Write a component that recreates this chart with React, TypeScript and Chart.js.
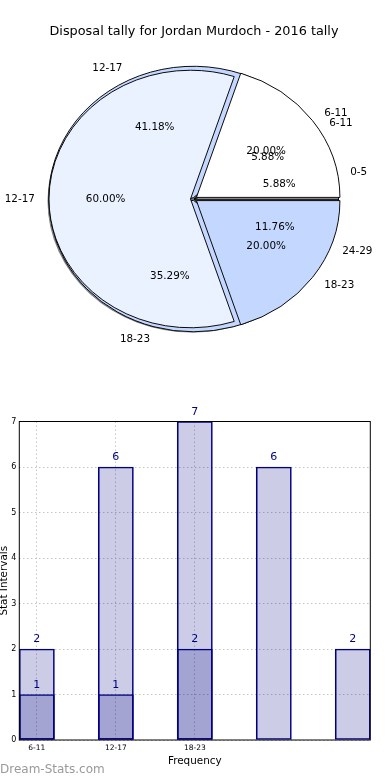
import React, { useEffect, useRef } from "react";
import { Chart, registerables } from "chart.js";

Chart.register(...registerables);

const FONT = "'DejaVu Sans', Verdana, sans-serif";

// ---------- data ----------
const chartTitle = "Disposal tally for Jordan Murdoch - 2016 tally";
const outerLabels = ["0-5", "6-11", "12-17", "18-23", "24-29"];
const outerValues = [1, 1, 7, 6, 2];
const innerLabels = ["6-11", "12-17", "18-23"];
const innerValues = [1, 3, 1];

const barPositions = [0, 1, 2, 3, 4];
const lightBarValues = [2, 6, 7, 6, 2];
const darkBarValues = [1, 1, 2];
const xTickPositions = [0, 1, 2];
const xTickLabels = ["6-11", "12-17", "18-23"];
const yAxisMax = 7;
const xAxisTitle = "Frequency";
const yAxisTitle = "Stat Intervals";
const watermark = "Dream-Stats.com";

// ---------- styles ----------
const outerColors = ["#ffffff", "#ebf2ff", "#c4d8ff", "#c4d8ff", "#8c8c8c"];
const innerColors = ["#ffffff", "#ebf2ff", "#c4d8ff"];
const outerExplode = [0, 0, 1.5, 1.5, 0];
const innerExplode = [3, 3.5, 3];
const outerShrink = [0, 0, 0, 0, 0];
const innerShrink = [1, 3, 1];
const Y_SCALE = 0.91;

const rev = <T,>(a: T[]): T[] => a.slice().reverse();

// dataset 0 = inner pie (drawn on top), dataset 1 = outer pie
const pieGeo = [
  { labels: rev(innerLabels), explode: rev(innerExplode), shrink: rev(innerShrink) },
  { labels: rev(outerLabels), explode: rev(outerExplode), shrink: rev(outerShrink) },
];

function centerOf(chart: any) {
  const { left, right, top, bottom } = chart.chartArea;
  return {
    cx: (left + right) / 2,
    cy: (top + bottom) / 2,
    R: Math.min(right - left, bottom - top) / 2,
  };
}

const pieGeometryPlugin = {
  id: "pieGeometry",
  afterDatasetsUpdate(chart: any) {
    const { cx, cy, R } = centerOf(chart);
    chart.data.datasets.forEach((_ds: any, di: number) => {
      const meta = chart.getDatasetMeta(di);
      const g = pieGeo[di];
      meta.data.forEach((arc: any, i: number) => {
        const mid = (arc.startAngle + arc.endAngle) / 2;
        arc.x = cx + Math.cos(mid) * g.explode[i];
        arc.y = cy + Math.sin(mid) * g.explode[i];
        arc.innerRadius = 0;
        arc.outerRadius = R - g.shrink[i];
      });
    });
  },
  beforeDatasetsDraw(chart: any) {
    const { ctx } = chart;
    const { cx, cy, R } = centerOf(chart);
    ctx.save();
    ctx.translate(0, cy);
    ctx.scale(1, Y_SCALE);
    ctx.translate(0, -cy);
    // shadow of the outer pie
    ctx.beginPath();
    ctx.arc(cx - 2, cy + 2 / Y_SCALE, R, 0, Math.PI * 2);
    ctx.fillStyle = "rgba(0,0,0,0.5)";
    ctx.fill();
  },
  afterDatasetsDraw(chart: any) {
    chart.ctx.restore();
  },
  afterDraw(chart: any) {
    const { ctx } = chart;
    const { cy } = centerOf(chart);
    ctx.save();
    ctx.font = `10.4px ${FONT}`;
    ctx.fillStyle = "#000";
    ctx.textBaseline = "middle";
    [1, 0].forEach((di) => {
      const meta = chart.getDatasetMeta(di);
      const values: number[] = chart.data.datasets[di].data;
      const total = values.reduce((a, b) => a + b, 0);
      meta.data.forEach((arc: any, i: number) => {
        const mid = (arc.startAngle + arc.endAngle) / 2;
        const c = Math.cos(mid);
        const s = Math.sin(mid);
        const r = arc.outerRadius;
        const px = (k: number) => arc.x + c * r * k;
        const py = (k: number) => cy + (arc.y + s * r * k - cy) * Y_SCALE;
        ctx.textAlign = c > 0 ? "left" : "right";
        ctx.fillText(pieGeo[di].labels[i], px(1.1), py(1.1));
        ctx.textAlign = "center";
        ctx.fillText(((values[i] / total) * 100).toFixed(2) + "%", px(0.6), py(0.6));
      });
    });
    ctx.restore();
  },
};

const barDecorPlugin = {
  id: "barDecor",
  afterDatasetsDraw(chart: any) {
    const { ctx, chartArea } = chart;
    const { left, right, top, bottom } = chartArea;
    ctx.save();
    ctx.strokeStyle = "#000";
    ctx.lineWidth = 1;
    ctx.strokeRect(left, top, right - left, bottom - top);
    // value labels
    ctx.font = `11px ${FONT}`;
    ctx.fillStyle = "#000080";
    ctx.textAlign = "center";
    ctx.textBaseline = "bottom";
    chart.data.datasets.forEach((_ds: any, di: number) => {
      const meta = chart.getDatasetMeta(di);
      const vals: number[] = chart.data.datasets[di].data.map((p: any) => p.y);
      meta.data.forEach((bar: any, i: number) => {
        ctx.fillText(String(vals[i]), bar.x, bar.y - 4);
      });
    });
    ctx.restore();
  },
  afterDraw(chart: any) {
    const { ctx, chartArea } = chart;
    const { left, right, top, bottom } = chartArea;
    ctx.save();
    ctx.fillStyle = "#000";
    ctx.font = `10.4px ${FONT}`;
    ctx.textAlign = "center";
    ctx.textBaseline = "middle";
    ctx.fillText(xAxisTitle, (left + right) / 2, 371);
    ctx.save();
    ctx.translate(6.7, (top + bottom) / 2);
    ctx.rotate(-Math.PI / 2);
    ctx.textBaseline = "alphabetic";
    ctx.fillText(yAxisTitle, 0, 0);
    ctx.restore();
    ctx.font = `12px ${FONT}`;
    ctx.fillStyle = "#9a9a9a";
    ctx.textAlign = "left";
    ctx.fillText(watermark, 0, 380);
    ctx.restore();
  },
};

export default function App() {
  const pieRef = useRef<HTMLCanvasElement>(null);
  const barRef = useRef<HTMLCanvasElement>(null);

  useEffect(() => {
    const pie = new Chart(pieRef.current!, {
      type: "pie",
      data: {
        labels: rev(outerLabels),
        datasets: [
          {
            data: rev(innerValues),
            backgroundColor: rev(innerColors),
            borderColor: "#000",
            borderWidth: 1,
            clip: false,
          } as any,
          {
            data: rev(outerValues),
            backgroundColor: rev(outerColors),
            borderColor: "#000",
            borderWidth: 1,
            clip: false,
          } as any,
        ],
      },
      options: {
        responsive: false,
        devicePixelRatio: 1,
        animation: false,
        rotation: 90,
        events: [],
        layout: { padding: { left: 49.5, right: 51.5, top: 6.9, bottom: 46.5 } },
        plugins: {
          legend: { display: false },
          tooltip: { enabled: false },
          title: {
            display: true,
            text: chartTitle,
            color: "#000",
            font: { family: FONT, size: 13, weight: "normal" },
            padding: { top: 16.8, bottom: 15.2 },
          },
        },
      } as any,
      plugins: [pieGeometryPlugin],
    });

    const barCommon = {
      backgroundColor: "rgba(0,0,128,0.2)",
      borderColor: "#000080",
      borderWidth: 1,
      borderSkipped: false,
      grouped: false,
      barThickness: 35.2,
    };

    const bar = new Chart(barRef.current!, {
      type: "bar",
      data: {
        datasets: [
          {
            ...barCommon,
            label: "dark",
            data: darkBarValues.map((v, i) => ({ x: barPositions[i], y: v })),
          } as any,
          {
            ...barCommon,
            label: "light",
            data: lightBarValues.map((v, i) => ({ x: barPositions[i], y: v })),
          } as any,
        ],
      },
      options: {
        responsive: false,
        devicePixelRatio: 1,
        animation: false,
        events: [],
        layout: { padding: { left: 0, right: 19.7, top: 31.5, bottom: 0 } },
        plugins: { legend: { display: false }, tooltip: { enabled: false }, title: { display: false } },
        scales: {
          x: {
            type: "linear",
            min: -0.222,
            max: 4.222,
            offset: false,
            afterBuildTicks: (axis: any) => {
              axis.ticks = xTickPositions.map((v) => ({ value: v }));
            },
            afterFit: (axis: any) => {
              axis.height = 40;
            },
            ticks: {
              autoSkip: false,
              maxRotation: 0,
              padding: 4,
              color: "#000",
              font: { family: FONT, size: 7.5 },
              callback: (_v: any, i: number) => xTickLabels[i],
            },
            grid: { offset: false, color: "#c4c4c4", lineWidth: 1, drawTicks: false },
            border: { display: false, dash: [1.5, 2.5] },
          },
          y: {
            min: 0,
            max: yAxisMax,
            afterFit: (axis: any) => {
              axis.width = 19.3;
            },
            ticks: {
              stepSize: 1,
              padding: 3,
              color: "#000",
              font: { family: FONT, size: 8 },
            },
            grid: { color: "#c4c4c4", lineWidth: 1, drawTicks: false },
            border: { display: false, dash: [1.5, 2.5] },
          },
        },
      } as any,
      plugins: [barDecorPlugin],
    });

    return () => {
      pie.destroy();
      bar.destroy();
    };
  }, []);

  return (
    <div style={{ position: "absolute", left: 0, top: 0, width: 390, height: 780, background: "#fff" }}>
      <canvas
        ref={pieRef}
        width={390}
        height={390}
        style={{ position: "absolute", left: 0, top: 0, width: 390, height: 390 }}
      />
      <canvas
        ref={barRef}
        width={390}
        height={390}
        style={{ position: "absolute", left: 0, top: 390, width: 390, height: 390 }}
      />
    </div>
  );
}
